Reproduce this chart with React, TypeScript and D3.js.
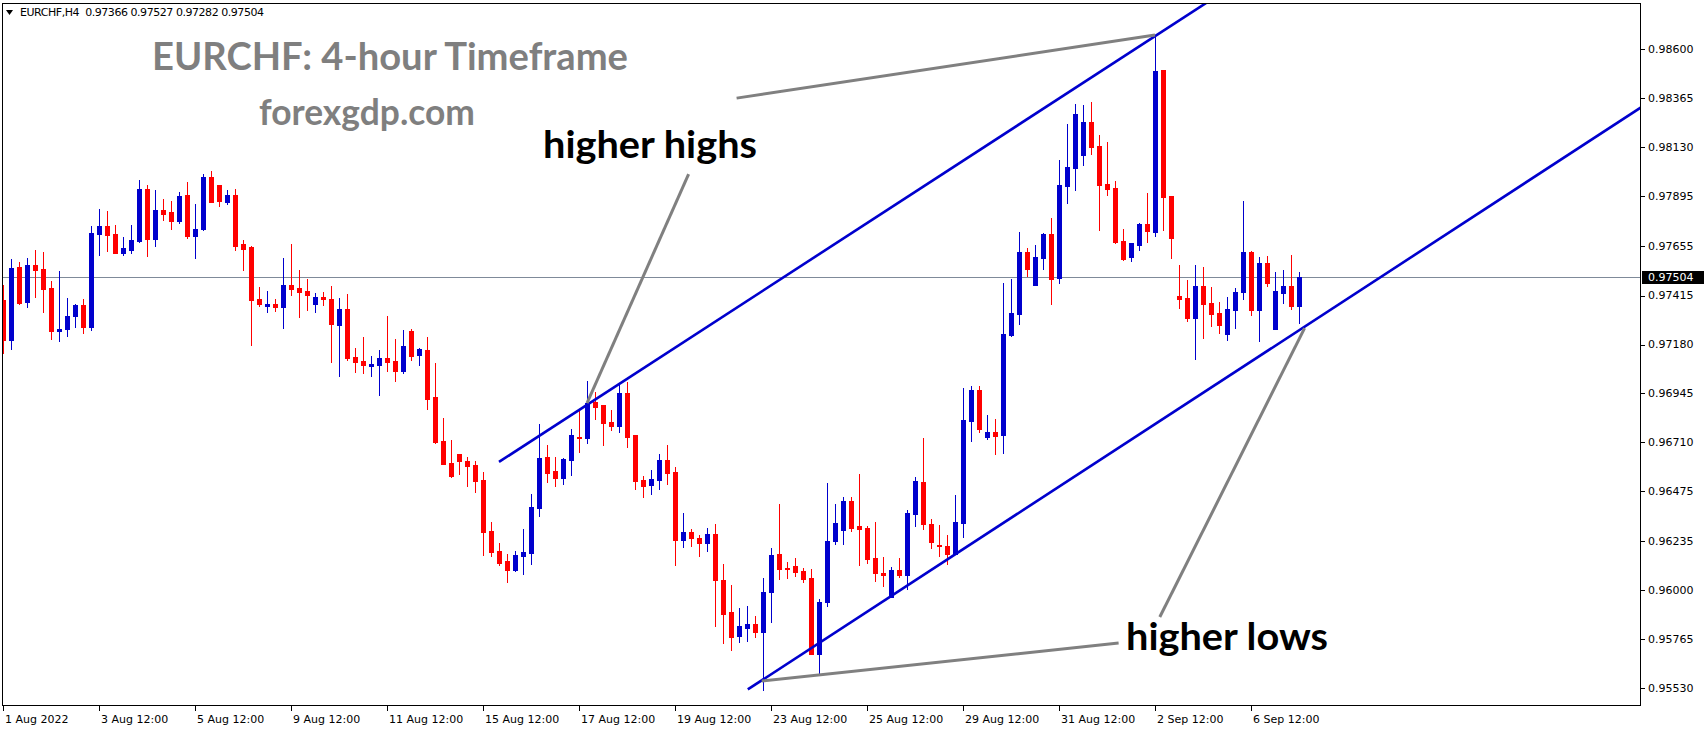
import React from 'react';
import * as d3 from 'd3';

const W = 1704;
const H = 730;
const PLOT = { left: 2, top: 3, right: 1641, bottom: 706 };

// OHLC (EURCHF, H4), bar 0 = 1 Aug 12:00
const opens = [0.97394,0.97202,0.97553,0.97384,0.97562,0.97543,0.97452,0.97245,0.97255,0.97317,0.97370,0.97264,0.97711,0.97749,0.97711,0.97620,0.97634,0.97677,0.97927,0.97687,0.97826,0.97817,0.97774,0.97898,0.97701,0.97735,0.97985,0.97946,0.97865,0.97898,0.97663,0.97649,0.97399,0.97365,0.97375,0.97360,0.97466,0.97452,0.97437,0.97375,0.97408,0.97399,0.97274,0.97351,0.97120,0.97101,0.97077,0.97082,0.97115,0.97101,0.97053,0.97245,0.97130,0.97154,0.96928,0.96717,0.96611,0.96654,0.96621,0.96601,0.96529,0.96284,0.96188,0.96140,0.96097,0.96164,0.96179,0.96395,0.96640,0.96572,0.96539,0.96625,0.96736,0.96731,0.96904,0.96890,0.96808,0.96789,0.96947,0.96745,0.96529,0.96505,0.96529,0.96625,0.96568,0.96241,0.96279,0.96251,0.96227,0.96270,0.96049,0.95895,0.95780,0.95818,0.95838,0.95799,0.95991,0.96174,0.96107,0.96116,0.96092,0.96058,0.95693,0.95943,0.96236,0.96289,0.96428,0.96308,0.96299,0.96155,0.96082,0.95967,0.96097,0.96073,0.96366,0.96520,0.96318,0.96217,0.96212,0.96174,0.96323,0.96813,0.96962,0.96736,0.96760,0.96745,0.97226,0.97327,0.97625,0.97466,0.97596,0.97711,0.97500,0.97942,0.98028,0.98091,0.98249,0.98134,0.97951,0.97932,0.97677,0.97601,0.97658,0.97759,0.97721,0.98499,0.97894,0.97413,0.97404,0.97308,0.97461,0.97380,0.97332,0.97231,0.97346,0.97432,0.97625,0.97346,0.97572,0.97255,0.97428,0.97461,0.97366];
const highs = [0.97466,0.97591,0.97577,0.97596,0.97634,0.97625,0.97485,0.97533,0.97404,0.97375,0.97399,0.97749,0.97831,0.97822,0.97754,0.97697,0.97754,0.97970,0.97946,0.97922,0.97879,0.97870,0.97913,0.97961,0.97855,0.97999,0.98014,0.97946,0.97922,0.97927,0.97682,0.97653,0.97456,0.97437,0.97399,0.97596,0.97663,0.97538,0.97495,0.97428,0.97432,0.97461,0.97404,0.97423,0.97163,0.97216,0.97125,0.97154,0.97317,0.97207,0.97250,0.97255,0.97163,0.97216,0.97091,0.96827,0.96721,0.96654,0.96640,0.96621,0.96568,0.96327,0.96227,0.96174,0.96188,0.96294,0.96462,0.96798,0.96697,0.96640,0.96635,0.96774,0.96861,0.97005,0.96952,0.96890,0.96866,0.96990,0.97000,0.96745,0.96548,0.96577,0.96654,0.96697,0.96592,0.96371,0.96294,0.96265,0.96299,0.96318,0.96126,0.96025,0.95914,0.95924,0.95876,0.96058,0.96203,0.96414,0.96135,0.96155,0.96107,0.96102,0.95958,0.96515,0.96414,0.96448,0.96448,0.96558,0.96308,0.96327,0.96159,0.96111,0.96155,0.96385,0.96544,0.96731,0.96342,0.96313,0.96265,0.96457,0.96971,0.96981,0.96981,0.96842,0.96822,0.97476,0.97495,0.97721,0.97644,0.97658,0.97716,0.97788,0.98067,0.98240,0.98336,0.98331,0.98345,0.98187,0.98153,0.97966,0.97735,0.97668,0.97764,0.97908,0.98667,0.98499,0.97894,0.97562,0.97490,0.97562,0.97553,0.97456,0.97384,0.97408,0.97452,0.97870,0.97629,0.97601,0.97605,0.97529,0.97538,0.97610,0.97527];
const lows = [0.97139,0.97159,0.97375,0.97360,0.97408,0.97336,0.97207,0.97197,0.97221,0.97264,0.97235,0.97250,0.97610,0.97629,0.97620,0.97610,0.97620,0.97673,0.97605,0.97653,0.97778,0.97735,0.97764,0.97692,0.97596,0.97730,0.97865,0.97846,0.97855,0.97634,0.97538,0.97178,0.97365,0.97336,0.97341,0.97259,0.97418,0.97312,0.97346,0.97336,0.97370,0.97096,0.97029,0.97106,0.97048,0.97043,0.97029,0.96938,0.97053,0.97005,0.97043,0.97106,0.97082,0.96870,0.96707,0.96606,0.96544,0.96558,0.96500,0.96472,0.96169,0.96164,0.96121,0.96039,0.96092,0.96078,0.96126,0.96356,0.96520,0.96500,0.96510,0.96553,0.96664,0.96707,0.96822,0.96697,0.96769,0.96760,0.96688,0.96486,0.96448,0.96462,0.96486,0.96510,0.96121,0.96207,0.96212,0.96164,0.96188,0.95828,0.95746,0.95713,0.95751,0.95756,0.95775,0.95520,0.95847,0.96054,0.96058,0.96068,0.96039,0.95693,0.95592,0.95924,0.96222,0.96222,0.96284,0.96121,0.96130,0.96044,0.96020,0.95967,0.96063,0.96006,0.96308,0.96294,0.96203,0.96164,0.96126,0.96174,0.96255,0.96717,0.96760,0.96726,0.96654,0.96659,0.97221,0.97279,0.97509,0.97466,0.97543,0.97375,0.97476,0.97860,0.97922,0.98043,0.98095,0.97730,0.97898,0.97668,0.97586,0.97581,0.97634,0.97673,0.97701,0.97730,0.97596,0.97356,0.97293,0.97111,0.97211,0.97269,0.97235,0.97202,0.97259,0.97399,0.97322,0.97197,0.97461,0.97255,0.97380,0.97351,0.97282];
const closes = [0.97202,0.97548,0.97380,0.97562,0.97538,0.97447,0.97245,0.97255,0.97317,0.97370,0.97264,0.97716,0.97749,0.97706,0.97620,0.97644,0.97682,0.97927,0.97687,0.97826,0.97807,0.97774,0.97894,0.97701,0.97735,0.97985,0.97865,0.97870,0.97898,0.97653,0.97639,0.97394,0.97375,0.97375,0.97360,0.97466,0.97447,0.97432,0.97418,0.97408,0.97399,0.97279,0.97351,0.97115,0.97096,0.97082,0.97087,0.97115,0.97096,0.97053,0.97173,0.97125,0.97159,0.96918,0.96712,0.96606,0.96548,0.96621,0.96597,0.96524,0.96279,0.96183,0.96130,0.96097,0.96169,0.96183,0.96400,0.96635,0.96563,0.96539,0.96630,0.96745,0.96731,0.96899,0.96880,0.96803,0.96789,0.96947,0.96736,0.96524,0.96500,0.96534,0.96625,0.96563,0.96241,0.96279,0.96251,0.96227,0.96270,0.96049,0.95886,0.95775,0.95828,0.95838,0.95799,0.95991,0.96169,0.96102,0.96102,0.96087,0.96054,0.95693,0.95943,0.96236,0.96323,0.96428,0.96299,0.96294,0.96150,0.96082,0.96073,0.96097,0.96073,0.96371,0.96524,0.96318,0.96231,0.96212,0.96174,0.96327,0.96818,0.96962,0.96774,0.96760,0.96741,0.97231,0.97332,0.97625,0.97543,0.97601,0.97711,0.97495,0.97946,0.98033,0.98288,0.98249,0.98129,0.97946,0.97927,0.97673,0.97591,0.97668,0.97759,0.97725,0.98494,0.97889,0.97692,0.97399,0.97308,0.97461,0.97375,0.97327,0.97274,0.97351,0.97432,0.97625,0.97346,0.97572,0.97476,0.97437,0.97461,0.97366,0.97504];

const xTickBars = [0, 12, 24, 36, 48, 60, 72, 84, 96, 108, 120, 132, 144, 156];
const xTickLabels = ['1 Aug 2022', '3 Aug 12:00', '5 Aug 12:00', '9 Aug 12:00', '11 Aug 12:00', '15 Aug 12:00', '17 Aug 12:00', '19 Aug 12:00', '23 Aug 12:00', '25 Aug 12:00', '29 Aug 12:00', '31 Aug 12:00', '2 Sep 12:00', '6 Sep 12:00'];
const yTicks = [0.98600, 0.98365, 0.98130, 0.97895, 0.97655, 0.97415, 0.97180, 0.96945, 0.96710, 0.96475, 0.96235, 0.96000, 0.95765, 0.95530];
const lastPrice = 0.97504;
const headerText = 'EURCHF,H4  0.97366 0.97527 0.97282 0.97504';

// trend lines as [bar, price] anchor pairs
const upperChannel: [number, number][] = [[62, 0.96616], [156, 0.98961]];
const lowerChannel: [number, number][] = [[93.1, 0.95523], [204.7, 0.98318]];
const pointerLines: [number, number][][] = [
  [[91.7, 0.98364], [144, 0.98667]],
  [[85.7, 0.97999], [73, 0.96899]],
  [[94.84, 0.95564], [139.45, 0.95746]],
  [[144.6, 0.95871], [162.7, 0.97259]],
];

const BLUE = '#0000CD';
const RED = '#FF0000';

export default function App() {
  const x = d3.scaleLinear().domain([0, 162]).range([3, 1299]);
  const y = d3.scaleLinear().domain([0.9553, 0.986]).range([688, 49]);
  const n = opens.length;
  const line = d3.line<[number, number]>().x((d) => x(d[0])).y((d) => y(d[1]));

  const candles = [];
  for (let i = 0; i < n; i++) {
    const o = opens[i], c = closes[i], h = highs[i], l = lows[i];
    const col = c >= o ? BLUE : RED;
    const cx = Math.round(x(i));
    const yTop = Math.round(y(Math.max(o, c)));
    const yBot = Math.round(y(Math.min(o, c)));
    candles.push(
      <g key={i}>
        <rect x={cx} y={Math.round(y(h))} width={1} height={Math.max(1, Math.round(y(l)) - Math.round(y(h)) + 1)} fill={col} />
        <rect x={cx - 2} y={yTop} width={5} height={Math.max(1, yBot - yTop + 1)} fill={col} />
      </g>
    );
  }

  const font = "'DejaVu Sans', sans-serif";
  const bigFont = "Lato, 'Open Sans', sans-serif";

  return (
    <svg width={W} height={H} style={{ position: 'absolute', left: 0, top: 0, display: 'block', background: '#fff' }}>
      <defs>
        <clipPath id="plot">
          <rect x={PLOT.left} y={PLOT.top} width={PLOT.right - PLOT.left} height={PLOT.bottom - PLOT.top} />
        </clipPath>
      </defs>
      <rect x={0} y={0} width={W} height={H} fill="#fff" />
      <g clipPath="url(#plot)">
        <line x1={PLOT.left} x2={PLOT.right} y1={Math.round(y(lastPrice)) + 0.5} y2={Math.round(y(lastPrice)) + 0.5} stroke="#7F8A99" strokeWidth={1} />
        {candles}
        <path d={line(upperChannel) || ''} stroke={BLUE} strokeWidth={2.6} fill="none" />
        <path d={line(lowerChannel) || ''} stroke={BLUE} strokeWidth={2.6} fill="none" />
        {pointerLines.map((p, i) => (
          <path key={i} d={line(p) || ''} stroke="#808080" strokeWidth={3} fill="none" />
        ))}
      </g>
      {/* frame */}
      <rect x={PLOT.left + 0.5} y={PLOT.top + 0.5} width={PLOT.right - PLOT.left - 1} height={PLOT.bottom - PLOT.top - 1} fill="none" stroke="#000" strokeWidth={1} />
      {/* y axis */}
      {yTicks.map((t) => (
        <g key={t}>
          <line x1={PLOT.right} x2={PLOT.right + 4} y1={Math.round(y(t)) + 0.5} y2={Math.round(y(t)) + 0.5} stroke="#000" />
          <text x={PLOT.right + 7} y={y(t)} dy="0.35em" fontFamily={font} fontSize={11} fill="#000">{t.toFixed(5)}</text>
        </g>
      ))}
      <rect x={PLOT.right + 1} y={Math.round(y(lastPrice)) - 6} width={W - PLOT.right - 1} height={13} fill="#000" />
      <text x={PLOT.right + 7} y={y(lastPrice)} dy="0.35em" fontFamily={font} fontSize={11} fill="#fff">{lastPrice.toFixed(5)}</text>
      {/* x axis */}
      {xTickBars.map((b, i) => (
        <g key={b}>
          <line x1={Math.round(x(b)) + 0.5} x2={Math.round(x(b)) + 0.5} y1={PLOT.bottom} y2={PLOT.bottom + 5} stroke="#000" />
          <text x={Math.round(x(b)) + 2} y={PLOT.bottom + 13} dy="0.35em" fontFamily={font} fontSize={11} fill="#000">{xTickLabels[i]}</text>
        </g>
      ))}
      {/* header */}
      <path d="M6,10 L13,10 L9.5,15 Z" fill="#000" />
      <text x={20} y={16} fontFamily={font} fontSize={11} fill="#000" textLength={244} lengthAdjust="spacing" style={{ whiteSpace: 'pre' }}>{headerText}</text>
      {/* annotations */}
      <text x={152} y={70} fontFamily={bigFont} fontWeight={700} fontSize={38} fill="#7F7F7F" textLength={476} lengthAdjust="spacingAndGlyphs">EURCHF: 4-hour Timeframe</text>
      <text x={259} y={125} fontFamily={bigFont} fontWeight={700} fontSize={36} fill="#7F7F7F" textLength={216} lengthAdjust="spacingAndGlyphs">forexgdp.com</text>
      <text x={543} y={158} fontFamily={bigFont} fontWeight={700} fontSize={38} fill="#000" textLength={214} lengthAdjust="spacingAndGlyphs">higher highs</text>
      <text x={1126} y={650} fontFamily={bigFont} fontWeight={700} fontSize={38} fill="#000" textLength={202} lengthAdjust="spacingAndGlyphs">higher lows</text>
    </svg>
  );
}
